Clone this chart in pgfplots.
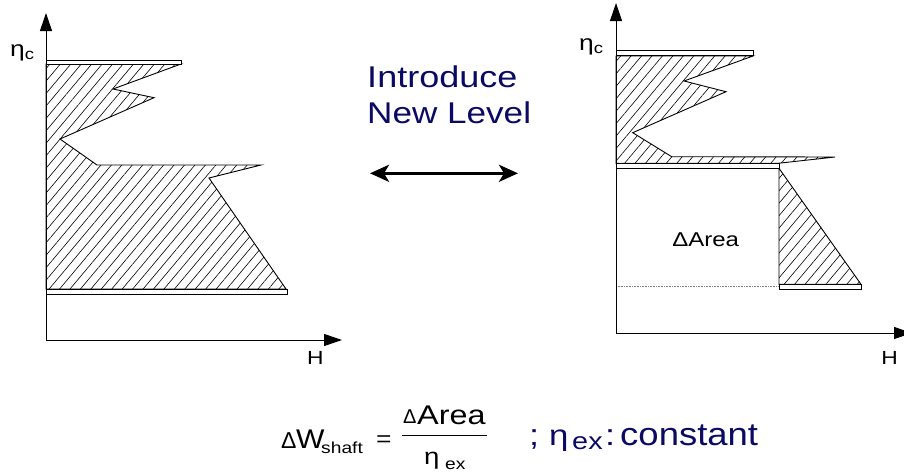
\documentclass[border=0pt]{standalone}
\usepackage{fontspec}
\setmainfont{Liberation Sans}
\usepackage{pgfplots}
\pgfplotsset{compat=1.18}
\usetikzlibrary{arrows.meta,patterns.meta}
\definecolor{navy}{RGB}{10,10,100}
\newcommand{\fs}[1]{\fontsize{#1}{#1}\selectfont}
\newcommand{\D}{\symbol{"0394}}
\tikzset{
  hatch/.style={draw=black,line width=0.9pt,pattern={Lines[angle=50,distance=8pt,line width=0.6pt]}},
  bar/.style={draw=black,line width=0.9pt,fill=white},
  ax/.style={black,line width=1pt,-{Triangle[length=18pt,width=12pt]}},
  lbl/.style={inner sep=0pt,xscale=1.2,anchor=base west}}
\begin{document}
\begin{tikzpicture}
\begin{axis}[x=1pt,y=1pt,xmin=0,xmax=904,ymin=0,ymax=472,y dir=reverse,
  axis lines=none,clip=false]
% ---------- left diagram ----------
\addplot[hatch] coordinates {(46,64) (181,64) (113,89) (154,97.7) (60,139) (97,165) (261,165) (209,178) (286,289) (46,289)} -- cycle;
\addplot[bar] coordinates {(46,60) (181.7,60) (181.7,64.5) (46,64.5)} -- cycle;
\addplot[bar] coordinates {(46,289) (287,289) (287,294) (46,294)} -- cycle;
\addplot[ax] coordinates {(46,340) (46,13)};
\addplot[ax] coordinates {(46,340) (342,340)};
\node[lbl,font=\fs{22}] at (axis cs:10,56) {η\textsubscript{c}};
\node[lbl,font=\fs{19}] at (axis cs:307,364) {H};
% ---------- right diagram ----------
\addplot[hatch] coordinates {(616,56) (753,56) (684,81) (726,91.7) (632.7,132.7) (671.7,156.7) (835,157) (778,163.3) (616,163.3)} -- cycle;
\addplot[hatch] coordinates {(779,168.3) (861,284.3) (779,284.3)} -- cycle;
\addplot[bar] coordinates {(616,50.7) (753.3,50.7) (753.3,55.7) (616,55.7)} -- cycle;
\addplot[bar] coordinates {(616,163.3) (779,163.3) (779,168.3) (616,168.3)} -- cycle;
\addplot[bar] coordinates {(779,284.3) (861.3,284.3) (861.3,289.3) (779,289.3)} -- cycle;
\addplot[gray,densely dotted,line width=0.6pt] coordinates {(616,286.7) (779,286.7)};
\addplot[ax] coordinates {(616,333) (616,3)};
\addplot[ax] coordinates {(616,333) (912,333)};
\node[lbl,font=\fs{22}] at (axis cs:579,50) {η\textsubscript{c}};
\node[lbl,font=\fs{19}] at (axis cs:881,364) {H};
\node[lbl,font=\fs{20}] at (axis cs:672,246.7) {\D Area};
% ---------- middle ----------
\node[lbl,font=\fs{30},text=navy] at (axis cs:367,87) {Introduce};
\node[lbl,font=\fs{30},text=navy,xscale=0.975] at (axis cs:367,123) {New Level};
\addplot[black,line width=3pt,{Stealth[length=19pt,width=17pt,inset=5pt]}-{Stealth[length=19pt,width=17pt,inset=5pt]}] coordinates {(370,173.3) (518,173.3)};
% ---------- formula ----------
\node[inner sep=0pt,anchor=base west,font=\fs{23}] at (axis cs:281,448) {\D};
\node[lbl,font=\fs{27},xscale=0.93] at (axis cs:296,448) {W};
\node[lbl,font=\fs{16}] at (axis cs:321,453) {shaft};
\node[lbl,font=\fs{22}] at (axis cs:376,446) {=};
\node[inner sep=0pt,anchor=base west,font=\fs{20}] at (axis cs:403,423) {\D};
\node[lbl,font=\fs{27}] at (axis cs:417,424) {Area};
\addplot[black,line width=1pt] coordinates {(402,435) (487,435)};
\node[lbl,font=\fs{23}] at (axis cs:424,464) {η};
\node[lbl,font=\fs{16}] at (axis cs:445,469) {ex};
\node[lbl,font=\fs{30},text=navy] at (axis cs:529,445) {;};
\node[lbl,font=\fs{29},text=navy] at (axis cs:549,445) {η};
\node[lbl,font=\fs{24},text=navy] at (axis cs:572,449) {ex};
\node[lbl,font=\fs{30},text=navy] at (axis cs:605,445) {:};
\node[lbl,font=\fs{32},text=navy,xscale=0.95] at (axis cs:620,445) {constant};
\end{axis}
\pgfresetboundingbox
\path (0,0) rectangle (904pt,472pt);
\end{tikzpicture}
\end{document}
